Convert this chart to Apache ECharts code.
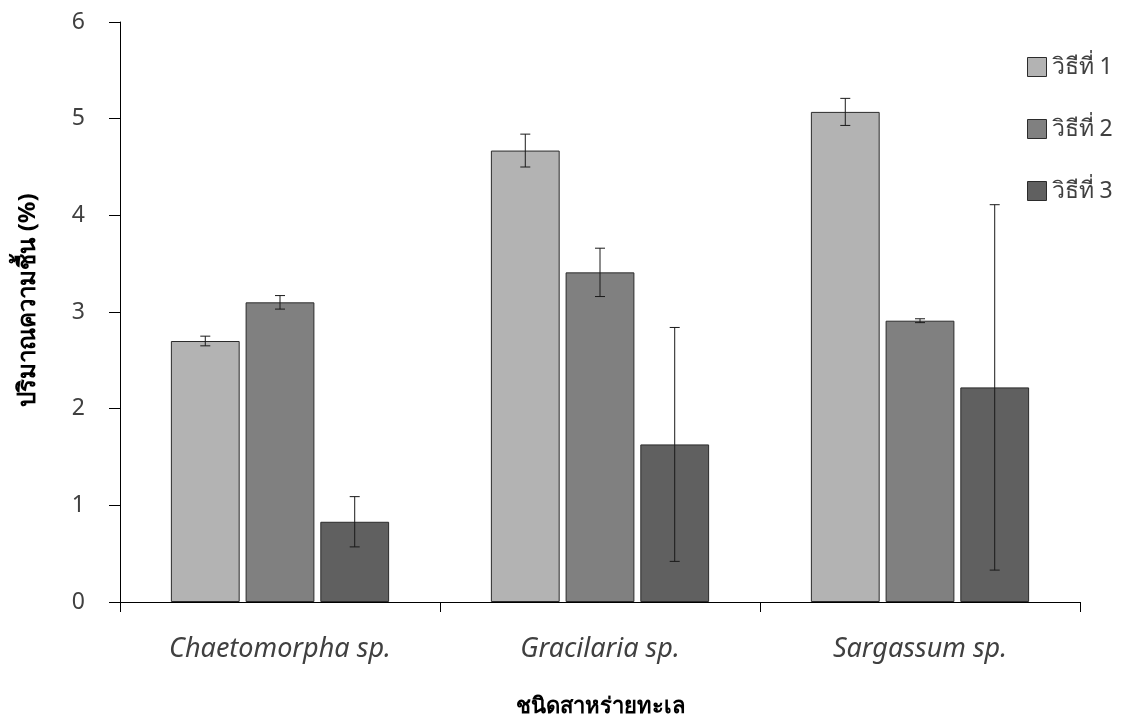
<!DOCTYPE html>
<html>
<head>
<meta charset="utf-8">
<script src="https://cdn.jsdelivr.net/npm/echarts@6/dist/echarts.min.js"></script>
<style>
  html, body { margin: 0; padding: 0; background: #fff; }
  #chart { width: 1121px; height: 724px; }
</style>
</head>
<body>
<div id="chart"></div>
<script>
// Seaweed species and moisture content (%) for the three methods
const categories = ['Chaetomorpha sp.', 'Gracilaria sp.', 'Sargassum sp.'];
const seriesNames = ['วิธีที่ 1', 'วิธีที่ 2', 'วิธีที่ 3'];
const method1 = [2.70, 4.67, 5.07];
const method2 = [3.10, 3.41, 2.91];
const method3 = [0.83, 1.63, 2.22];
// Standard deviation (± error) for each method
const err1 = [0.05, 0.17, 0.14];
const err2 = [0.07, 0.25, 0.02];
const err3 = [0.26, 1.21, 1.89];
const yTicks = [0, 1, 2, 3, 4, 5, 6];

const colors = ['#b3b3b3', '#808080', '#606060'];
const values = [method1, method2, method3];
const errors = [err1, err2, err3];

const FONT = '"Noto Sans", "DejaVu Sans", sans-serif';
const BAR_W = 0.215;   // fraction of category band
const GAP = 0.086;     // gap between bars as fraction of bar width

const chart = echarts.init(document.getElementById('chart'));

const barSeries = values.map((vals, i) => ({
  name: seriesNames[i],
  type: 'bar',
  data: vals,
  barWidth: (BAR_W * 100) + '%',
  barGap: (GAP * 100) + '%',
  itemStyle: { color: colors[i], borderColor: '#2b2b2b', borderWidth: 1 },
  z: 2
}));

const errorSeries = values.map((vals, i) => ({
  type: 'custom',
  name: seriesNames[i] + ' err',
  z: 5,
  silent: true,
  data: vals.map((v, j) => [j, v - errors[i][j], v + errors[i][j]]),
  renderItem: function (params, api) {
    const band = api.size([1, 0])[0];
    const bw = band * BAR_W;
    const offset = (i - 1) * (bw + bw * GAP);
    const lo = api.coord([api.value(0), api.value(1)]);
    const hi = api.coord([api.value(0), api.value(2)]);
    const x = lo[0] + offset;
    const cap = 5;
    const style = { stroke: '#1a1a1a', lineWidth: 1 };
    return {
      type: 'group',
      children: [
        { type: 'line', shape: { x1: x, y1: hi[1], x2: x, y2: lo[1] }, style: style },
        { type: 'line', shape: { x1: x - cap, y1: hi[1], x2: x + cap, y2: hi[1] }, style: style },
        { type: 'line', shape: { x1: x - cap, y1: lo[1], x2: x + cap, y2: lo[1] }, style: style }
      ]
    };
  }
}));

chart.setOption({
  animation: false,
  backgroundColor: '#ffffff',
  grid: { left: 120, right: 41, top: 22, bottom: 122, containLabel: false, outerBoundsMode: 'none' },
  legend: {
    data: seriesNames,
    orient: 'vertical',
    left: 1027,
    top: 55,
    padding: 0,
    itemWidth: 19,
    itemHeight: 19,
    itemGap: 38,
    icon: 'rect',
    textStyle: { fontFamily: FONT, fontSize: 23, lineHeight: 24, color: '#404040', padding: [0, 0, 0, 0] },
    itemStyle: { borderColor: '#2b2b2b', borderWidth: 1 }
  },
  xAxis: {
    type: 'category',
    data: categories,
    name: 'ชนิดสาหร่ายทะเล',
    nameLocation: 'middle',
    nameGap: 94,
    nameTextStyle: { fontFamily: FONT, fontSize: 22, fontWeight: 'bold', color: '#000' },
    axisLine: { lineStyle: { color: '#000', width: 1 } },
    axisTick: { show: true, length: 10, lineStyle: { color: '#000' } },
    axisLabel: { margin: 34, fontFamily: FONT, fontSize: 27, fontStyle: 'italic', color: '#404040' }
  },
  yAxis: {
    type: 'value',
    min: yTicks[0],
    max: yTicks[yTicks.length - 1],
    interval: 1,
    name: 'ปริมาณความชื้น (%)',
    nameLocation: 'middle',
    nameGap: 80,
    nameRotate: 90,
    nameTextStyle: { fontFamily: FONT, fontSize: 24, fontWeight: 'bold', color: '#000', padding: [0, 0, 0, 24] },
    axisLine: { show: true, lineStyle: { color: '#000', width: 1 } },
    axisTick: { show: true, length: 11, lineStyle: { color: '#000' } },
    axisLabel: { margin: 35, fontFamily: FONT, fontSize: 23, color: '#404040' },
    splitLine: { show: false }
  },
  series: barSeries.concat(errorSeries)
});
</script>
</body>
</html>
